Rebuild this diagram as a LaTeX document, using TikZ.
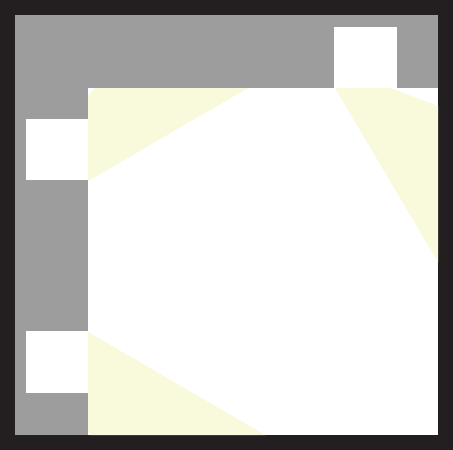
\documentclass[tikz,border=0pt]{standalone}
\definecolor{frameblk}{HTML}{231F20}
\definecolor{bandgray}{HTML}{9D9D9D}
\definecolor{lightyel}{HTML}{F9F9DC}
\tikzset{
  framefill/.style={fill=frameblk},
  bandfill/.style={fill=bandgray},
  holefill/.style={fill=white},
  lightfill/.style={fill=lightyel}
}
\begin{document}
\begin{tikzpicture}[x=1pt,y=-1pt]
\useasboundingbox (0,0) rectangle (453,450);
% black frame
\fill[framefill] (0,0) rectangle (453,450);
\fill[holefill] (15,15) rectangle (438,435);
% light cones
\fill[lightfill] (88,96) -- (95,88) -- (248,88) -- (88,181) -- cycle;
\fill[lightfill] (335,88) -- (390,88) -- (438,106) -- (438,262) -- cycle;
\fill[lightfill] (88,332) -- (265,435) -- (90,435) -- (88,430) -- cycle;
% gray L band
\fill[bandfill] (15,15) rectangle (438,88);
\fill[bandfill] (15,15) rectangle (88,435);
% white squares
\fill[holefill] (334,27) rectangle (397,88);
\fill[holefill] (26,119) rectangle (88,180);
\fill[holefill] (26,331) rectangle (88,393);
\end{tikzpicture}
\end{document}
